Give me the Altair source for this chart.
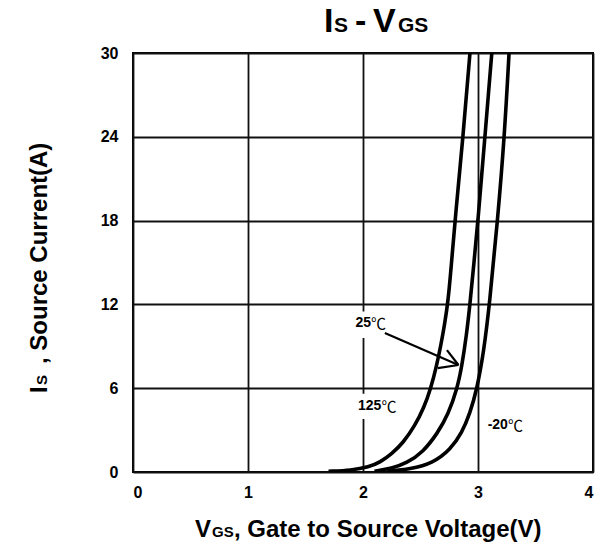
import altair as alt
import pandas as pd

# ---- data ----
VGS_125 = [1.70, 1.90, 2.05, 2.15, 2.25, 2.35, 2.45, 2.53, 2.59, 2.64, 2.68, 2.71, 2.74, 2.77, 2.80, 2.87, 2.93]
IS_125 = [0.05, 0.12, 0.35, 0.7, 1.3, 2.1, 3.3, 4.6, 6.0, 7.6, 9.2, 10.6, 12.2, 15.0, 18.0, 24.0, 30.0]

VGS_25 = [2.10, 2.25, 2.38, 2.52, 2.65, 2.74, 2.82, 2.86, 2.90, 2.93, 2.965, 3.00, 3.06, 3.12]
IS_25 = [0.05, 0.25, 0.64, 1.4, 2.8, 4.1, 6.0, 7.6, 9.8, 12.0, 15.0, 18.0, 24.0, 30.0]

VGS_M20 = [2.21, 2.41, 2.61, 2.76, 2.86, 2.93, 2.99, 3.05, 3.10, 3.17, 3.23, 3.27]
IS_M20 = [0.05, 0.2, 0.64, 1.6, 2.8, 4.2, 5.9, 8.6, 12.0, 18.0, 24.0, 30.0]

X_TICKS = [0, 1, 2, 3, 4]
Y_TICKS = [0, 6, 12, 18, 24, 30]

LABEL_NUM = ["25", "125", "-20"]
LABEL_UNIT = ["℃", "℃", "℃"]
LABEL_V = [2.07, 2.16, 3.26]
LABEL_I = [10.64, 4.71, 3.36]

# white boxes behind labels (cut the grid line)
BOX_V1 = [1.92, 1.93]
BOX_V2 = [2.22, 2.33]
BOX_I1 = [9.6, 3.8]
BOX_I2 = [11.5, 5.6]

# arrow for 25℃: shaft and two head arms
ARR_V1 = [2.19, 2.83, 2.83]
ARR_I1 = [9.95, 7.66, 7.66]
ARR_V2 = [2.83, 2.73, 2.65]
ARR_I2 = [7.66, 8.73, 7.44]

FONT = "Liberation Sans, Arial, sans-serif"
CJK = "Noto Sans CJK SC, sans-serif"

curves = pd.concat([
    pd.DataFrame({"V": VGS_125, "I": IS_125, "T": "125"}),
    pd.DataFrame({"V": VGS_25, "I": IS_25, "T": "25"}),
    pd.DataFrame({"V": VGS_M20, "I": IS_M20, "T": "-20"}),
], ignore_index=True)

xscale = alt.Scale(domain=[0, 4], nice=False, zero=False)
yscale = alt.Scale(domain=[0, 30], nice=False, zero=False)

xaxis = alt.Axis(values=X_TICKS, format="d", title=None, grid=True, gridColor="#111111", gridWidth=1.8,
                 gridOpacity=1, ticks=False, domain=False, labelFont=FONT, labelFontWeight="bold",
                 labelFontSize=16, labelColor="black", labelPadding=12, labelAngle=0)
yaxis = alt.Axis(values=Y_TICKS, format="d", title=None, grid=True, gridColor="#111111", gridWidth=1.8,
                 gridOpacity=1, ticks=False, domain=False, labelFont=FONT, labelFontWeight="bold",
                 labelFontSize=16, labelColor="black", labelPadding=15)

base_grid = alt.Chart(pd.DataFrame({"V": [0, 4], "I": [0, 30]})).mark_point(opacity=0).encode(
    x=alt.X("V:Q", scale=xscale, axis=xaxis),
    y=alt.Y("I:Q", scale=yscale, axis=yaxis),
)

lines = alt.Chart(curves).mark_line(color="black", strokeWidth=3.6, interpolate="basis", clip=True).encode(
    x=alt.X("V:Q", scale=xscale),
    y=alt.Y("I:Q", scale=yscale),
    detail="T:N",
)

boxes = alt.Chart(pd.DataFrame({"v1": BOX_V1, "v2": BOX_V2, "i1": BOX_I1, "i2": BOX_I2})).mark_rect(
    color="white").encode(
    x=alt.X("v1:Q", scale=xscale), x2="v2:Q",
    y=alt.Y("i1:Q", scale=yscale), y2="i2:Q",
)

lab_df = pd.DataFrame({"n": LABEL_NUM, "u": LABEL_UNIT, "v": LABEL_V, "i": LABEL_I})
labels_num = alt.Chart(lab_df).mark_text(
    font=FONT, fontWeight="bold", fontSize=14, color="black", align="right", baseline="middle").encode(
    x=alt.X("v:Q", scale=xscale), y=alt.Y("i:Q", scale=yscale), text="n:N",
)
labels_unit = alt.Chart(lab_df).mark_text(
    font=CJK, fontWeight="normal", fontSize=15, color="black", align="left", baseline="middle", dy=1).encode(
    x=alt.X("v:Q", scale=xscale), y=alt.Y("i:Q", scale=yscale), text="u:N",
)

arrow = alt.Chart(pd.DataFrame({"v1": ARR_V1, "i1": ARR_I1, "v2": ARR_V2, "i2": ARR_I2})).mark_rule(
    color="black", strokeWidth=2.2).encode(
    x=alt.X("v1:Q", scale=xscale), y=alt.Y("i1:Q", scale=yscale), x2="v2:Q", y2="i2:Q",
)


def txt(s, x, y, size, angle=0):
    kw = dict(font=FONT, fontWeight="bold", fontSize=size, color="black", align="left",
              baseline="alphabetic", text=s)
    if angle:
        kw["angle"] = angle
    return alt.Chart(pd.DataFrame({"a": [0]})).mark_text(**kw).encode(
        x=alt.value(x), y=alt.value(y))


# chart title  I_S - V_GS  (origin of plot at 133,53)
title = [
    txt("I", 324 - 133, 32 - 53, 34),
    txt("S", 334 - 133, 32 - 53, 21),
    txt("-", 355 - 133, 32 - 53, 34),
    txt("V", 373 - 133, 32 - 53, 34),
    txt("GS", 398 - 133, 32 - 53, 21),
]
# x axis title
xt = [
    txt("V", 195 - 133, 537 - 53, 24),
    txt("GS", 212 - 133, 537 - 53, 15),
    txt(", Gate to Source Voltage(V)", 234 - 133, 537 - 53, 24),
]
# y axis title (rotated)
yt = [
    txt("I", 47 - 133, 393 - 53, 24, 270),
    txt("S", 47 - 133, 385 - 53, 15, 270),
    txt(", Source Current(A)", 47 - 133, 364 - 53, 24, 270),
]

chart = alt.layer(base_grid, boxes, lines, arrow, labels_num, labels_unit, *title, *xt, *yt).properties(
    width=460, height=419,
    autosize=alt.AutoSizeParams(type="none"),
    padding={"left": 133, "top": 53, "right": 16, "bottom": 78},
    background="white",
).configure_view(stroke="black", strokeWidth=2)

chart.save("out.html", embed_options={"renderer": "svg", "actions": False})
